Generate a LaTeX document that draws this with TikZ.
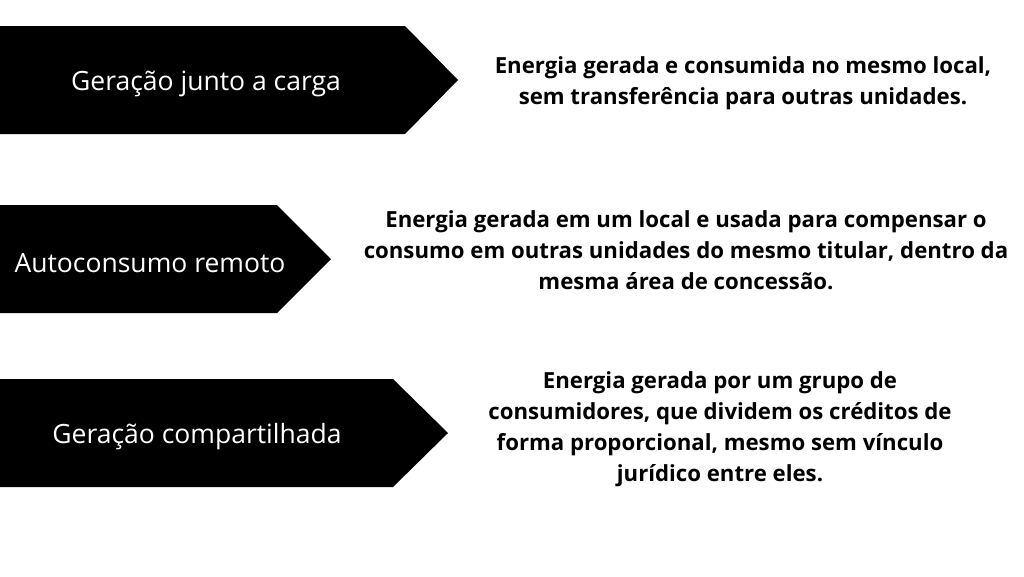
\documentclass[tikz,border=0pt]{standalone}
\usepackage{fontspec}
\setmainfont{Open Sans}
\begin{document}
\begin{tikzpicture}[x=1pt,y=-1pt,
  lbl/.style={text=white,font=\fontsize{26.5}{30}\selectfont},
  desc/.style={align=center,font=\fontsize{22.2}{31}\selectfont\bfseries,text=black}]
\useasboundingbox (0,0) rectangle (1024,576);
\fill[white] (0,0) rectangle (1024,576);
\fill[black] (0,26) -- (405,26) -- (458,80) -- (405,134) -- (0,134) -- cycle;
\fill[black] (0,205) -- (277,205) -- (331,259) -- (277,313) -- (0,313) -- cycle;
\fill[black] (0,379) -- (393,379) -- (448,433) -- (393,487) -- (0,487) -- cycle;
\node[lbl] (a) at (206,84) {Geração junto a carga};
\node[lbl] (b) at (150,263) {Autoconsumo remoto};
\node[lbl] (c) at (197,437) {Geração compartilhada};
\node[desc] (da) at (743,83) {Energia gerada e consumida no mesmo local,\\sem transferência para outras unidades.};
\node[desc] (db) at (686,250) {Energia gerada em um local e usada para compensar o\\consumo em outras unidades do mesmo titular, dentro da\\mesma área de concessão.};
\node[desc] (dc) at (720,429) {Energia gerada por um grupo de\\consumidores, que dividem os créditos de\\forma proporcional, mesmo sem vínculo\\jurídico entre eles.};
\end{tikzpicture}
\end{document}
